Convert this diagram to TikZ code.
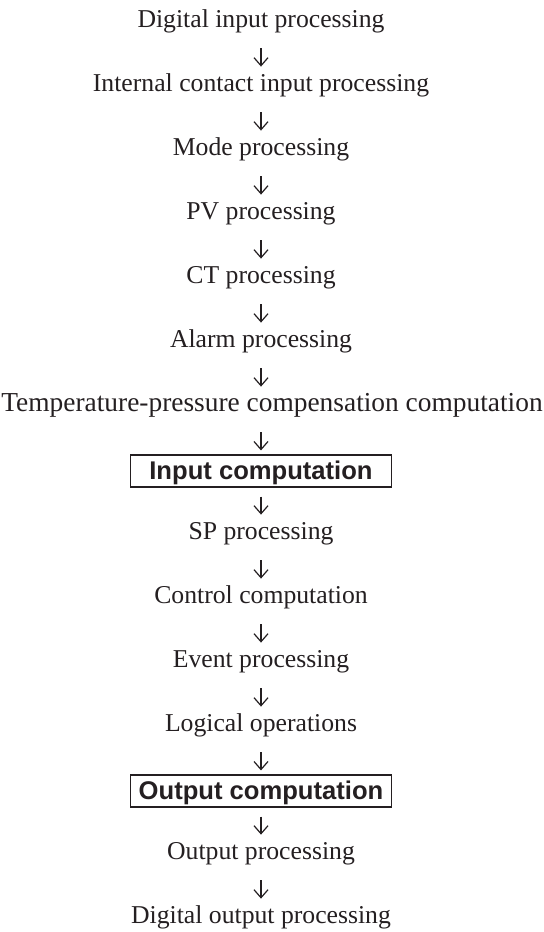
\documentclass[tikz,border=0pt]{standalone}
\usepackage{fontspec}
\setmainfont{Liberation Serif}
\newfontfamily\boxfont{Liberation Sans}
\usetikzlibrary{arrows.meta}
\definecolor{inkblack}{rgb}{.14,.12,.13}

\tikzset{
  stage/.style={anchor=base,inner xsep=0pt,inner ysep=1pt,text height=9pt,text depth=5pt,
    font=\fontsize{12.85}{15}\selectfont,text=inkblack},
  calcbox/.style={stage,draw=inkblack,line width=.6pt,minimum width=130.5pt,
    text height=11pt,text depth=3pt,
    font=\boxfont\bfseries\fontsize{12.8}{15}\selectfont},
  flow/.style={draw=inkblack,line width=.6pt,-{Straight Barb[length=4pt,width=7pt]},
    shorten <=4.5pt,shorten >=2pt}
}

\begin{document}
\begin{tikzpicture}[x=0.5pt,y=-0.5pt]
      \useasboundingbox (0,0) rectangle (544,932);
      \node[stage] (dinp) at (261,27) {Digital input processing};
      \node[stage] (cinp) at (261,91) {Internal contact input processing};
      \node[stage] (mode) at (261,155) {Mode processing};
      \node[stage] (pv) at (261,219) {PV processing};
      \node[stage] (ct) at (261,283) {CT processing};
      \node[stage] (alarm) at (261,347) {Alarm processing};
      \node[stage,font=\fontsize{13.7}{16}\selectfont] (tpc) at (272,411) {Temperature-pressure compensation computation};
      \node[calcbox] (incalc) at (261,479) {Input computation};
      \node[stage] (sp) at (261,539) {SP processing};
      \node[stage] (ctrl) at (261,603) {Control computation};
      \node[stage] (event) at (261,667) {Event processing};
      \node[stage] (logic) at (261,731) {Logical operations};
      \node[calcbox] (outcalc) at (261,799) {Output computation};
      \node[stage] (outp) at (261,859) {Output processing};
      \node[stage] (dout) at (261,923) {Digital output processing};

      \draw[flow] (dinp.south) -- (cinp.north);
      \draw[flow] (cinp.south) -- (mode.north);
      \draw[flow] (mode.south) -- (pv.north);
      \draw[flow] (pv.south) -- (ct.north);
      \draw[flow] (ct.south) -- (alarm.north);
      \draw[flow] (alarm.south) -- (alarm.south |- tpc.north);
      \draw[flow] (tpc.south -| incalc.north) -- (incalc.north);
      \draw[flow] (incalc.south) -- (sp.north);
      \draw[flow] (sp.south) -- (ctrl.north);
      \draw[flow] (ctrl.south) -- (event.north);
      \draw[flow] (event.south) -- (logic.north);
      \draw[flow] (logic.south) -- (outcalc.north);
      \draw[flow] (outcalc.south) -- (outp.north);
      \draw[flow] (outp.south) -- (dout.north);
    \end{tikzpicture}
\end{document}
